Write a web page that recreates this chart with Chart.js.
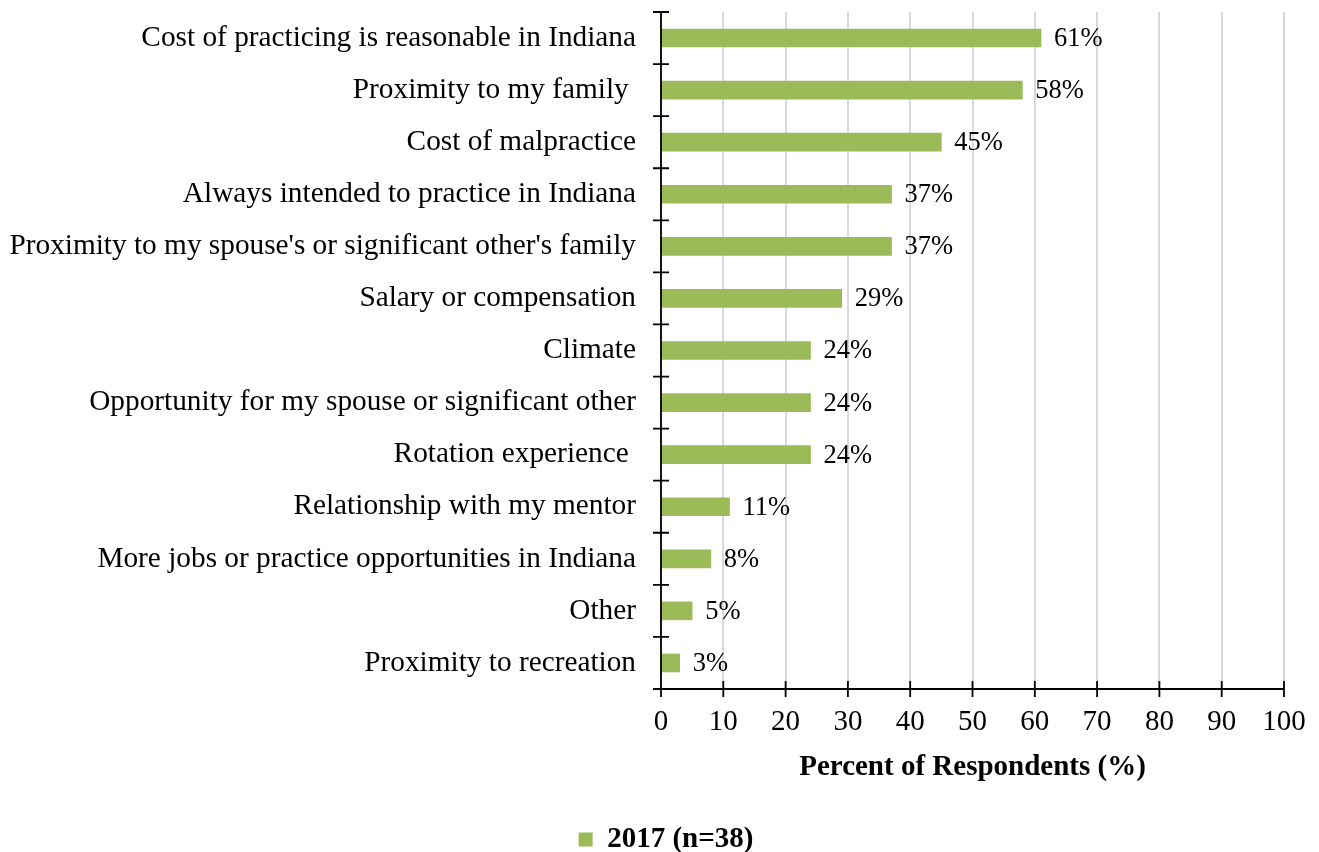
<!DOCTYPE html>
<html>
<head>
<meta charset="utf-8">
<script src="https://cdn.jsdelivr.net/npm/chart.js@4/dist/chart.umd.min.js"></script>
<style>
  html, body { margin: 0; padding: 0; background: #fff; }
  #wrap { width: 1319px; height: 852px; position: relative; }
</style>
</head>
<body>
<div id="wrap"><canvas id="chart"></canvas></div>
<script>
// reasons for practicing in Indiana
const reasons = [
  "Cost of practicing is reasonable in Indiana",
  "Proximity to my family ",
  "Cost of malpractice",
  "Always intended to practice in Indiana",
  "Proximity to my spouse's or significant other's family",
  "Salary or compensation",
  "Climate",
  "Opportunity for my spouse or significant other",
  "Rotation experience ",
  "Relationship with my mentor",
  "More jobs or practice opportunities in Indiana",
  "Other",
  "Proximity to recreation"
];
const percent2017 = [61, 58, 45, 37, 37, 29, 24, 24, 24, 11, 8, 5, 3];
const xTicks = [0, 10, 20, 30, 40, 50, 60, 70, 80, 90, 100];

const FONT = "'Liberation Serif', 'Times New Roman', serif";
const GREEN = "#9bbb59";

// value labels at the end of each bar
const barLabels = {
  id: 'barLabels',
  afterDatasetsDraw(chart) {
    const ctx = chart.ctx;
    const meta = chart.getDatasetMeta(0);
    ctx.save();
    ctx.font = "26.5px " + FONT;
    ctx.fillStyle = "#000";
    ctx.textAlign = "left";
    ctx.textBaseline = "middle";
    meta.data.forEach((bar, i) => {
      ctx.fillText(percent2017[i] + "%", bar.x + 13, bar.y + 1);
    });
    ctx.restore();
  }
};

// black axis lines with ticks crossing both sides
const crossAxes = {
  id: 'crossAxes',
  afterDraw(chart) {
    const ctx = chart.ctx;
    const x = chart.scales.x;
    const y = chart.scales.y;
    const area = chart.chartArea;
    const t = 8;
    ctx.save();
    ctx.strokeStyle = "#000";
    ctx.lineWidth = 1.8;
    ctx.beginPath();
    ctx.moveTo(area.left, area.top);
    ctx.lineTo(area.left, area.bottom + t);
    ctx.moveTo(area.left - t, area.bottom);
    ctx.lineTo(x.getPixelForValue(100), area.bottom);
    const step = (y.getPixelForValue(1) - y.getPixelForValue(0));
    for (let i = 0; i < reasons.length; i++) {
      const py = y.getPixelForValue(i) - step / 2;
      ctx.moveTo(area.left - t, py);
      ctx.lineTo(area.left + t, py);
    }
    xTicks.forEach(v => {
      const px = x.getPixelForValue(v);
      ctx.moveTo(px, area.bottom - t);
      ctx.lineTo(px, area.bottom + t);
    });
    ctx.stroke();
    ctx.restore();
  }
};

// nudge the legend a bit right of the page centre
const legendShift = {
  id: 'legendShift',
  afterLayout(chart) {
    if (chart.legend) chart.legend.left += 48;
  }
};

new Chart(document.getElementById('chart'), {
  type: 'bar',
  data: {
    labels: reasons,
    datasets: [{
      label: '2017 (n=38)',
      data: percent2017,
      backgroundColor: GREEN,
      borderWidth: 0,
      barThickness: 18
    }]
  },
  plugins: [barLabels, crossAxes, legendShift],
  options: {
    indexAxis: 'y',
    responsive: true,
    maintainAspectRatio: false,
    animation: false,
    layout: { padding: { left: 0, right: 35, top: 12, bottom: -12 } },
    scales: {
      x: {
        min: 0,
        max: 100,
        afterBuildTicks(axis) { axis.ticks = xTicks.map(v => ({ value: v })); },
        afterFit(scale) {
          scale.height = 96;
          scale.paddingLeft = 0;
          scale.paddingRight = 0;
        },
        grid: { color: "#d9d9d9", lineWidth: 2, drawTicks: false },
        border: { display: false },
        ticks: { color: "#000", padding: 16, font: { family: FONT, size: 29 } },
        title: {
          display: true,
          text: 'Percent of Respondents (%)',
          color: "#000",
          padding: 0,
          font: { family: FONT, size: 29, weight: 'bold' }
        }
      },
      y: {
        afterFit(scale) {
          scale.width = 661;
          scale.paddingTop = 0;
          scale.paddingBottom = 0;
        },
        grid: { display: false, drawTicks: false },
        border: { display: false },
        ticks: { color: "#000", padding: 25, font: { family: FONT, size: 29.3 } }
      }
    },
    plugins: {
      legend: {
        position: 'bottom',
        labels: {
          color: "#000",
          boxWidth: 14,
          boxHeight: 14,
          padding: 40,
          font: { family: FONT, size: 29, weight: 'bold' }
        }
      },
      tooltip: { enabled: false }
    }
  }
});
</script>
</body>
</html>
